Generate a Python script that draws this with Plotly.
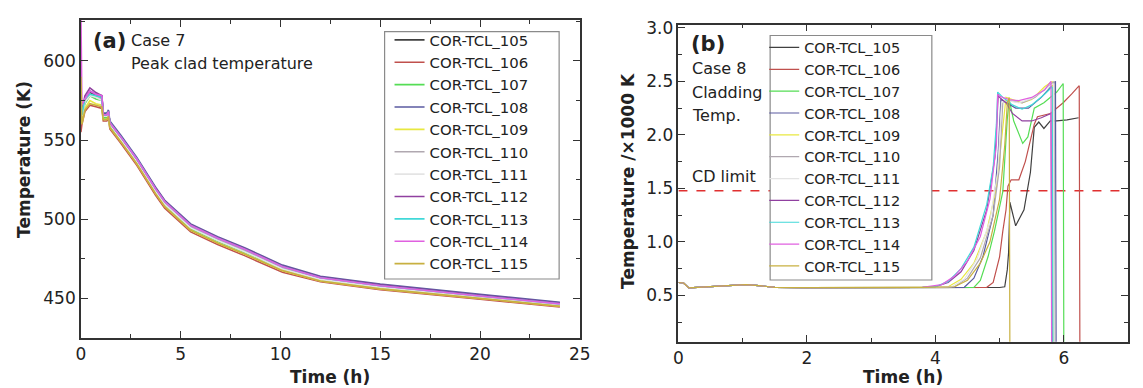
import plotly.graph_objects as go

W, H = 1143, 388


def px(x):
    return x / W


def py(y):
    return 1 - y / H


SERIES = ["COR-TCL_105", "COR-TCL_106", "COR-TCL_107", "COR-TCL_108",
          "COR-TCL_109", "COR-TCL_110", "COR-TCL_111", "COR-TCL_112",
          "COR-TCL_113", "COR-TCL_114", "COR-TCL_115"]
COLORS = ["#404040", "#c0504d", "#55dd55", "#5a5aa0", "#e8e840", "#b0a8b0",
          "#e4e4e4", "#9040a0", "#40d8d8", "#e060e0", "#c8b040"]

# ---------------- Panel (a): Case 7, peak clad temperature (K) ----------------
T_A = [0.0, 0.05, 0.2, 0.45, 0.75, 1.05, 1.12, 1.3, 1.38, 1.45, 2.0, 2.8, 3.75,
       4.2, 5.5, 6.85, 8.2, 10.1, 12.0, 15.0, 20.0, 24.0]
A_105 = [572, 566, 575, 580, 578, 577, 566, 566, 568, 561, 552, 538, 519, 511, 496, 488, 481, 470, 463, 458, 451.5, 446.5]
A_106 = [555, 560, 568, 572, 571, 570, 562, 562, 564, 557, 548, 534, 515, 507, 492, 484, 477, 466.5, 460.5, 455.5, 449.5, 444.5]
A_107 = [570, 564, 573, 578, 576, 575, 564, 564, 566, 559, 550, 536, 517, 509, 494, 486, 479, 468.5, 462, 457, 450.5, 445.5]
A_108 = [574, 567, 576, 581, 579, 578, 567, 567, 569, 562, 553, 539, 520, 512, 497, 489, 482, 471, 464, 459, 452.5, 447.5]
A_109 = [565, 561, 570, 575, 573, 572, 563, 563, 565, 558, 549, 535, 516, 508, 493, 485, 478, 467.5, 461, 456, 450, 445]
A_110 = [571, 565, 574, 579, 577, 576, 565, 565, 567, 560, 551, 537, 518, 510, 495, 487, 480, 469, 462.5, 457.5, 451, 446]
A_111 = [571, 565, 574, 578, 577, 575, 565, 565, 567, 560, 550.5, 536.5, 517.5, 509.5, 494.5, 486.5, 479.5, 468.5, 462, 457, 450.5, 446]
A_112 = [578, 568, 578, 583, 580, 578, 566, 566, 568, 561, 552, 538, 519.5, 511.5, 496.5, 488.5, 481.5, 470.5, 463.5, 458.5, 452, 447]
A_113 = [576, 566, 576, 579, 578, 577, 566, 566, 568, 561, 552, 538, 519, 511, 496, 488, 481, 470, 463, 458, 451.5, 446.5]
A_114 = [630, 572, 576, 581, 579, 578, 566, 566, 568, 561, 552, 538, 519, 511, 496, 488, 481, 470, 463, 458, 451.5, 446.5]
A_115 = [590, 560, 569, 573, 572, 571, 563, 563, 565, 558, 549, 535, 516, 508, 493, 485, 478, 467.5, 461, 456, 450, 445]
A_VALUES = [A_105, A_106, A_107, A_108, A_109, A_110, A_111, A_112, A_113, A_114, A_115]

# ---------------- Panel (b): Case 8, cladding temperature (x1000 K) ----------------
B_BASE_T = [0.0, 0.08, 0.16, 0.3, 0.6, 0.85, 1.05, 1.25, 1.5, 2.0, 3.0, 3.8]
B_BASE_V = [0.62, 0.615, 0.57, 0.575, 0.58, 0.595, 0.6, 0.59, 0.575, 0.572, 0.572, 0.575]

B_105_T = [5.0, 5.08, 5.12, 5.14, 5.16, 5.25, 5.38, 5.48, 5.54, 5.61, 5.69, 5.79, 5.89, 6.05, 6.23]
B_105_V = [0.573, 0.58, 0.74, 0.9, 1.37, 1.15, 1.3, 1.65, 2.07, 2.12, 2.06, 2.13, 2.13, 2.14, 2.16]
B_106_T = [4.8, 4.9, 5.0, 5.05, 5.1, 5.13, 5.18, 5.3, 5.4, 5.54, 5.59, 5.79, 5.99, 6.12, 6.24, 6.25]
B_106_V = [0.575, 0.62, 0.86, 1.1, 1.3, 1.52, 1.58, 1.58, 1.75, 2.1, 2.17, 2.2, 2.3, 2.38, 2.46, 0.0]
B_107_T = [4.6, 4.7, 4.82, 4.92, 5.05, 5.12, 5.15, 5.22, 5.36, 5.44, 5.54, 5.69, 5.89, 5.99, 6.0]
B_107_V = [0.575, 0.64, 0.86, 1.1, 1.47, 2.15, 2.33, 2.13, 1.92, 1.98, 2.25, 2.3, 2.4, 2.48, 0.0]
B_108_T = [4.45, 4.6, 4.74, 4.9, 4.98, 5.02, 5.1, 5.25, 5.45, 5.65, 5.8, 5.87, 5.88]
B_108_V = [0.575, 0.66, 0.86, 1.25, 1.85, 2.33, 2.3, 2.25, 2.25, 2.35, 2.45, 2.5, 0.0]
B_109_T = [4.2, 4.4, 4.6, 4.8, 4.95, 5.05, 5.1, 5.2, 5.35, 5.5, 5.7, 5.82, 5.83]
B_109_V = [0.58, 0.65, 0.8, 1.1, 1.5, 2.1, 2.35, 2.33, 2.3, 2.33, 2.45, 2.5, 0.0]
B_110_T = [4.3, 4.5, 4.7, 4.9, 5.0, 5.05, 5.15, 5.35, 5.55, 5.75, 5.85, 5.86]
B_110_V = [0.58, 0.66, 0.85, 1.25, 1.7, 2.3, 2.32, 2.3, 2.35, 2.45, 2.5, 0.0]
B_111_T = [4.25, 4.45, 4.65, 4.85, 4.97, 5.03, 5.12, 5.3, 5.5, 5.7, 5.84, 5.85]
B_111_V = [0.58, 0.65, 0.84, 1.2, 1.65, 2.3, 2.32, 2.3, 2.34, 2.42, 2.48, 0.0]
B_112_T = [4.0, 4.2, 4.4, 4.6, 4.8, 4.93, 4.98, 5.0, 5.1, 5.2, 5.35, 5.5, 5.65, 5.8, 5.82]
B_112_V = [0.58, 0.62, 0.72, 0.92, 1.3, 1.8, 2.38, 2.35, 2.3, 2.2, 2.13, 2.13, 2.16, 2.2, 0.0]
B_113_T = [4.0, 4.2, 4.4, 4.6, 4.8, 4.9, 4.95, 4.97, 5.05, 5.2, 5.35, 5.5, 5.7, 5.82, 5.83]
B_113_V = [0.58, 0.63, 0.75, 0.95, 1.35, 1.7, 2.1, 2.4, 2.35, 2.28, 2.24, 2.28, 2.38, 2.45, 0.0]
B_114_T = [3.85, 4.1, 4.3, 4.5, 4.7, 4.85, 4.95, 4.97, 5.0, 5.15, 5.3, 5.5, 5.7, 5.8, 5.81]
B_114_V = [0.58, 0.6, 0.68, 0.82, 1.05, 1.4, 1.9, 2.38, 2.36, 2.33, 2.32, 2.35, 2.42, 2.5, 0.0]
B_115_T = [4.3, 4.5, 4.7, 4.85, 5.0, 5.08, 5.12, 5.15, 5.16]
B_115_V = [0.58, 0.64, 0.8, 1.0, 1.4, 1.9, 2.3, 2.35, 0.0]
B_T = [B_105_T, B_106_T, B_107_T, B_108_T, B_109_T, B_110_T, B_111_T, B_112_T, B_113_T, B_114_T, B_115_T]
B_V = [B_105_V, B_106_V, B_107_V, B_108_V, B_109_V, B_110_V, B_111_V, B_112_V, B_113_V, B_114_V, B_115_V]

CD_LIMIT = 1.477
CD_T = [0, 7]

FONT = "DejaVu Sans"
TXT = "#222222"

fig = go.Figure()

for name, col, vals in zip(SERIES, COLORS, A_VALUES):
    fig.add_trace(go.Scatter(x=T_A, y=vals, mode="lines", name=name,
                             line=dict(color=col, width=1.6),
                             xaxis="x", yaxis="y", legend="legend"))

fig.add_trace(go.Scatter(x=CD_T, y=[CD_LIMIT, CD_LIMIT], mode="lines",
                         line=dict(color="#e03030", width=1.6, dash="dash"),
                         showlegend=False, xaxis="x2", yaxis="y2"))

for name, col, tt, vv in zip(SERIES, COLORS, B_T, B_V):
    fig.add_trace(go.Scatter(x=B_BASE_T + tt, y=B_BASE_V + vv, mode="lines", name=name,
                             line=dict(color=col, width=1.2),
                             xaxis="x2", yaxis="y2", legend="legend2"))

axis_common = dict(showgrid=False, zeroline=False, showline=True, linecolor="#333333",
                   linewidth=1.6, mirror="ticks", ticks="inside", ticklen=7,
                   tickcolor="#333333", tickwidth=1.3,
                   tickfont=dict(family=FONT, size=17, color=TXT))

fig.update_layout(
    width=W, height=H, margin=dict(l=0, r=0, t=0, b=0),
    paper_bgcolor="white", plot_bgcolor="white", font=dict(family=FONT, color=TXT),
    xaxis=dict(domain=[px(77), px(583)], range=[0, 25], dtick=5, tick0=0,
               minor=dict(dtick=2.5, ticks="inside", ticklen=4, tickcolor="#333333"),
               anchor="y", **axis_common),
    yaxis=dict(domain=[py(337), py(13)], range=[425, 626], dtick=50, tick0=450,
               minor=dict(dtick=25, ticks="inside", ticklen=4, tickcolor="#333333"),
               anchor="x", **axis_common),
    xaxis2=dict(domain=[px(683), px(1139)], range=[0, 7], dtick=2, tick0=0,
                minor=dict(dtick=1, ticks="inside", ticklen=4, tickcolor="#333333"),
                anchor="y2", **axis_common),
    yaxis2=dict(domain=[py(341), py(18)], range=[0.065, 3.03], dtick=0.5, tick0=0.5,
                tickformat=".1f",
                minor=dict(dtick=0.25, ticks="inside", ticklen=4, tickcolor="#333333"),
                anchor="x2", **axis_common),
    legend=dict(x=px(390), y=py(17), xanchor="left", yanchor="top",
                bgcolor="rgba(0,0,0,0)", borderwidth=0, itemwidth=30,
                font=dict(family=FONT, size=14.9, color=TXT)),
    legend2=dict(x=px(770), y=py(25), xanchor="left", yanchor="top",
                 bgcolor="rgba(0,0,0,0)", borderwidth=0, itemwidth=30,
                 font=dict(family=FONT, size=14.5, color=TXT)),
)

# legend frames
for x0, y0, x1, y1 in [(385, 25, 562, 277), (776, 29, 940, 278)]:
    fig.add_shape(type="rect", xref="paper", yref="paper",
                  x0=px(x0), x1=px(x1), y0=py(y1), y1=py(y0),
                  line=dict(color="#8a8a8a", width=1.2), fillcolor="white", layer="above")

ann = []


def add_text(text, x, y, size, bold=False, xanchor="left", angle=0):
    ann.append(dict(text=("<b>%s</b>" % text) if bold else text, x=px(x), y=py(y),
                    xref="paper", yref="paper", xanchor=xanchor, yanchor="middle",
                    textangle=angle, showarrow=False,
                    font=dict(family=FONT, size=size, color=TXT)))


add_text("(a)", 87, 35, 21, bold=True)
add_text("Case 7", 126, 34, 16)
add_text("Peak clad temperature", 126, 58, 16)
add_text("(b)", 694, 38, 21, bold=True)
add_text("Case 8", 695, 63, 16)
add_text("Cladding", 695, 87, 16)
add_text("Temp.", 695, 110, 16)
add_text("CD limit", 695, 173, 16)
add_text("Temperature (K)", 19, 155, 17, bold=True, xanchor="center", angle=-90)
add_text("Temperature /×1000 K", 632, 177, 17, bold=True, xanchor="center", angle=-90)
add_text("Time (h)", 330, 377, 17, bold=True, xanchor="center")
add_text("Time (h)", 911, 377, 17, bold=True, xanchor="center")
fig.update_layout(annotations=ann)

fig.write_html("out.html", config={"displayModeBar": False},
               post_script="document.documentElement.style.margin='0';"
                           "document.body.style.margin='0';"
                           "document.body.style.overflow='hidden';")
